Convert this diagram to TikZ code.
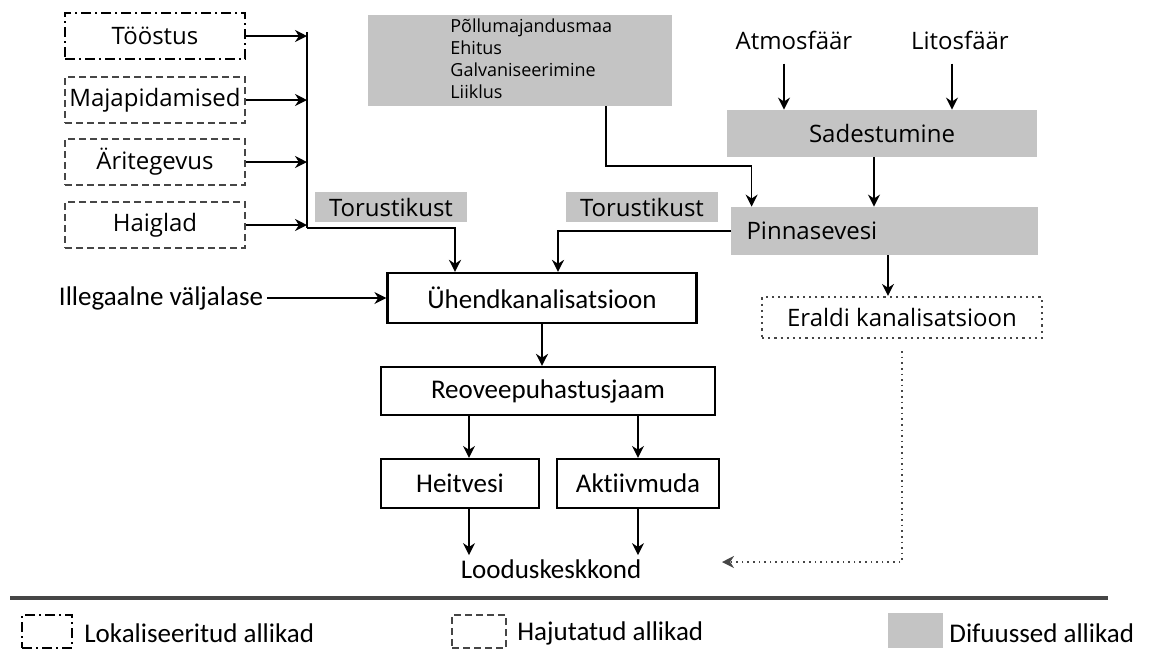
\documentclass[tikz,border=0pt]{standalone}
\usepackage{fontspec}
\setmainfont{Carlito}[Ligatures=NoCommon]
\newfontfamily\opensans{Open Sans}
\usepackage{tikz}
\usetikzlibrary{arrows.meta, calc}
\definecolor{diffgray}{RGB}{196, 196, 196}
\definecolor{linegray}{RGB}{70, 70, 70}

\begin{document}
\begin{tikzpicture}[x=0.5pt, y=-0.5pt, >={Stealth[length=6pt, width=6pt]},
    lab/.style={font=\fontsize{13.5}{16}\selectfont, inner sep=2pt},
    labo/.style={font=\opensans\fontsize{12}{14}\selectfont, inner sep=2pt},
    lokal/.style={labo, draw=black, line width=1.1pt, dash pattern=on 5pt off 2pt on 1pt off 2pt, minimum width=90pt, minimum height=23pt},
    hajut/.style={labo, draw=linegray, line width=0.9pt, dash pattern=on 3.5pt off 2pt, minimum width=90pt, minimum height=23pt},
    difus/.style={labo, fill=diffgray},
    plain/.style={lab, draw=black, line width=1.1pt},
    arr/.style={->, line width=0.8pt}]
    \useasboundingbox (0,0) rectangle (1158,666);
    \node[lokal] (toostus) at (155,36) {Tööstus};
    \node[hajut] (maja) at (155,100) {Majapidamised};
    \node[hajut] (ari) at (155,162) {Äritegevus};
    \node[hajut] (haig) at (155,225) {Haiglad};
    \coordinate (bustop) at (307,32);
    \coordinate (busbot) at (307,228);
    \node[difus, minimum width=76pt, minimum height=15pt] (tor1) at (391,207) {Torustikust};
    \node[difus, minimum width=76pt, minimum height=15pt] (tor2) at (642,207) {Torustikust};
    \node[difus, minimum width=152pt, minimum height=45.5pt] (pollu) at (520,60.5) {};
    \node[anchor=west, align=left, font=\opensans\fontsize{9}{11}\selectfont, inner sep=0pt] (pollutxt) at (450,59) {Põllumajandusmaa\\Ehitus\\Galvaniseerimine\\Liiklus};
    \node[labo] (atmo) at (794,40) {Atmosfäär};
    \node[labo] (lito) at (960,40) {Litosfäär};
    \node[difus, minimum width=155pt, minimum height=23.5pt] (sade) at (882,133.5) {Sadestumine};
    \node[difus, minimum height=24pt, text width=138pt, inner xsep=7.75pt, align=left] (pinna) at (884.5,231) {Pinnasevesi};
    \node[plain, minimum width=154.5pt, minimum height=25pt] (uhend) at (542,298) {Ühendkanalisatsioon};
    \node[lab] (ille) at (161,298) {Illegaalne väljalase};
    \node[plain, minimum width=167pt, minimum height=24pt] (reov) at (548,391) {Reoveepuhastusjaam};
    \node[plain, minimum width=79pt, minimum height=24.5pt] (heit) at (460,483.5) {Heitvesi};
    \node[plain, minimum width=81pt, minimum height=24.5pt] (akti) at (638,483.5) {Aktiivmuda};
    \node[lab] (lood) at (551,569) {Looduskeskkond};
    \node[labo, draw=linegray, line width=1.1pt, dotted, minimum width=140pt, minimum height=20.5pt] (erald) at (902,317.5) {Eraldi kanalisatsioon};
    \coordinate (dend) at (722,562);
    \coordinate (pbend) at (606,166);
    \coordinate (ein) at ([xshift=-7pt]erald.north);
    \coordinate (hin) at ([xshift=4.5pt]heit.north);

    \foreach \n in {toostus, maja, ari, haig}
        \draw[arr] (\n.east) -- (\n.east -| bustop);
    \draw[line width=1.4pt] (bustop) -- (busbot);
    \draw[arr, line width=1.1pt] (busbot) -| ([xshift=-43.5pt]uhend.north);
    \draw[arr, line width=1pt] (pinna.west) -| ([xshift=8pt]uhend.north);
    \draw[arr] (pollu.south -| pbend) -- (pbend) -| ([xshift=10.5pt]pinna.north west);
    \draw[arr, shorten <=5pt] ([xshift=-5pt]atmo.south) -- ([xshift=-5pt]atmo.south |- sade.north);
    \draw[arr, shorten <=5pt] ([xshift=-4pt]lito.south) -- ([xshift=-4pt]lito.south |- sade.north);
    \draw[arr] ([xshift=-4pt]sade.south) -- ([xshift=-4pt]sade.south |- pinna.north);
    \draw[arr] (ein |- pinna.south) -- (ein);
    \draw[arr] (ille.east) -- (uhend.west);
    \draw[arr, line width=1pt] (uhend.south) -- (uhend.south |- reov.north);
    \draw[arr] (hin |- reov.south) -- (hin);
    \draw[arr] (akti.north |- reov.south) -- (akti.north);
    \draw[arr] (hin |- heit.south) -- (hin |- lood.north);
    \draw[arr] (akti.south) -- (akti.south |- lood.north);
    \draw[arr, dotted, line width=1.2pt, linegray] ([yshift=-6pt]erald.south) |- (dend);

    \draw[line width=2pt, linegray] (10,598) -- (1108,598);
    \node[lokal, minimum width=25pt, minimum height=16.5pt] (leg1) at (47,631.5) {};
    \node[lab, anchor=west] (leg1t) at (80,633) {Lokaliseeritud allikad};
    \node[hajut, minimum width=27pt, minimum height=16.5pt] (leg2) at (479,631.5) {};
    \node[lab, anchor=west] (leg2t) at (513,633) {Hajutatud allikad};
    \node[difus, minimum width=27.5pt, minimum height=17.5pt] (leg3) at (915.5,630.5) {};
    \node[lab, anchor=west] (leg3t) at (945,633) {Difuussed allikad};
\end{tikzpicture}
\end{document}
